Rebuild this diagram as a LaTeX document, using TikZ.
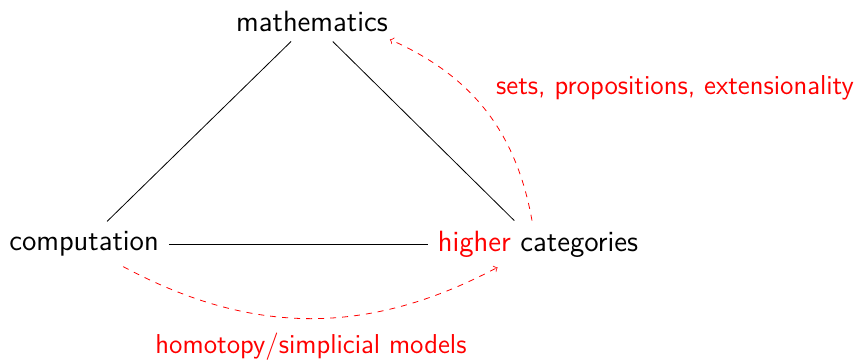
\documentclass[tikz,border=0pt]{standalone}
\usetikzlibrary{calc}
\begin{document}
\begin{tikzpicture}[x=0.5pt,y=-0.5pt,
  lbl/.style={font=\sffamily\fontsize{14.65pt}{17.6pt}\selectfont, inner sep=4.9pt},
  note/.style={font=\sffamily\fontsize{13.67pt}{16.4pt}\selectfont, inner sep=4.6pt, text=red},
  link/.style={draw=black, line width=0.4pt},
  remark/.style={draw=red, dashed, ->, line width=0.4pt}]
\useasboundingbox (0,0) rectangle (857,360);
\node[lbl] (math) at (312,21) {mathematics};
\node[lbl] (comp) at (84,244) {computation};
\node[lbl] (hc) at (538,244) {\textcolor{red}{higher} categories};
\node[note] (l1) at (675,88) {sets, propositions, extensionality};
\node[note] (l2) at (311,347) {homotopy/simplicial models};
\draw[link] (math) -- (comp);
\draw[link] (math) -- (hc);
\draw[link] (comp) -- (hc);
\draw[remark] ([xshift=-3pt]hc.north) to[bend right=28] ([shift={(-4pt,1pt)}]math.south east);
\draw[remark] (comp.-30) to[bend right=28] (hc.-150);
\end{tikzpicture}
\end{document}
